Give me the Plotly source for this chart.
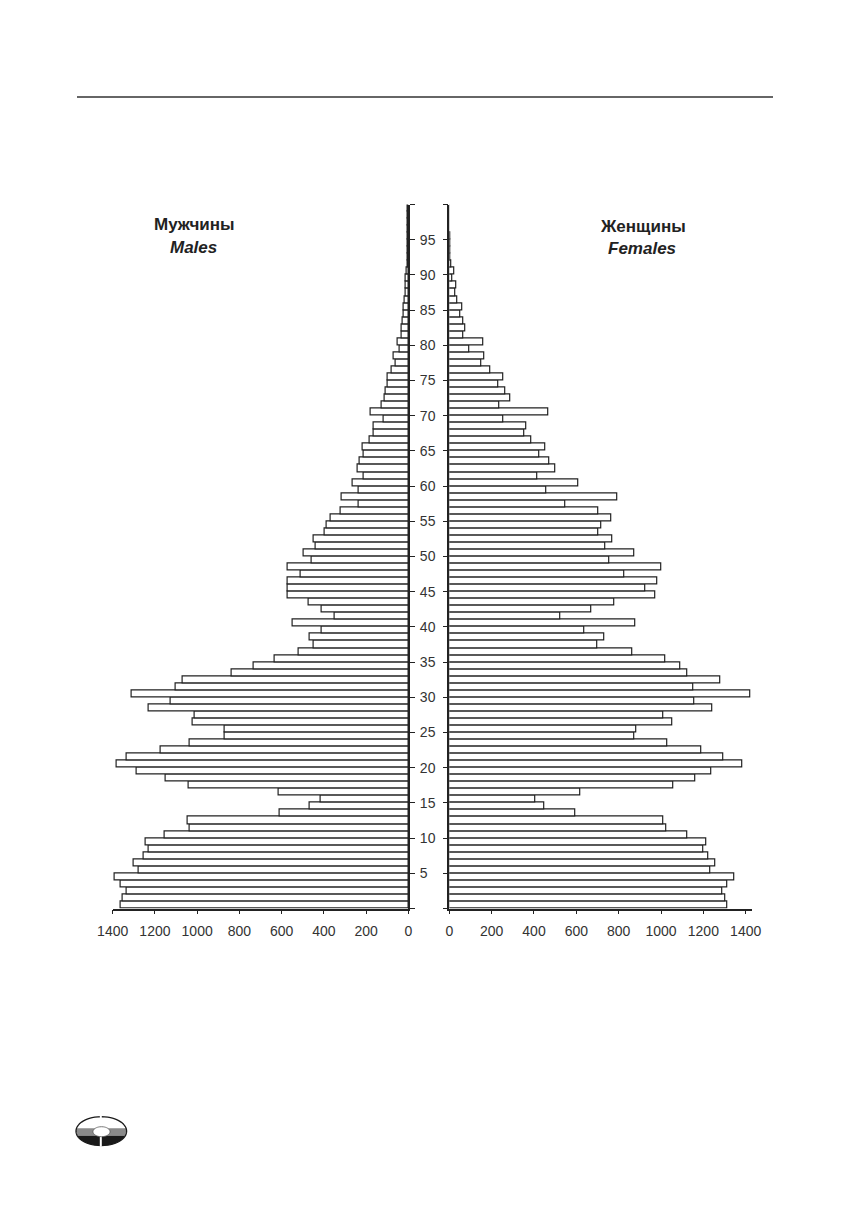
import numpy as np
import plotly.graph_objects as go

W, H = 843, 1220
OFF = 8  # page body margin around the plot div

AGES = list(range(100))

MALES = [
    1362, 1351, 1332, 1364, 1389, 1275, 1300, 1255, 1229, 1245,
    1155, 1037, 1043, 609, 466, 414, 616, 1039, 1147, 1285,
    1381, 1332, 1171, 1037, 870, 870, 1020, 1010, 1228, 1124,
    1310, 1100, 1070, 836, 732, 634, 518, 447, 466, 409,
    549, 350, 410, 473, 573, 571, 571, 508, 571, 458,
    496, 437, 447, 395, 388, 366, 322, 235, 316, 237,
    265, 213, 241, 230, 210, 216, 183, 163, 166, 117,
    178, 126, 110, 107, 98, 98, 79, 60, 68, 43,
    51, 32, 33, 27, 24, 20, 17, 14, 13, 11,
    8, 5, 4, 3, 2, 2, 1, 1, 1, 1,
]

FEMALES = [
    1315, 1302, 1288, 1315, 1348, 1235, 1258, 1224, 1200, 1216,
    1123, 1024, 1009, 594, 450, 408, 619, 1058, 1162, 1239,
    1386, 1294, 1192, 1028, 872, 883, 1055, 1011, 1244, 1159,
    1422, 1153, 1280, 1123, 1091, 1020, 865, 698, 732, 638,
    880, 526, 671, 778, 973, 924, 984, 825, 1002, 756,
    872, 735, 770, 706, 718, 765, 704, 546, 795, 460,
    609, 416, 501, 472, 427, 454, 386, 354, 365, 257,
    468, 236, 288, 263, 230, 255, 192, 153, 164, 96,
    162, 66, 77, 66, 54, 60, 39, 27, 31, 13,
    25, 8, 6, 5, 4, 3, 2, 2, 1, 1,
]

X_TICKS = list(range(0, 1401, 200))
AGE_TICKS = list(range(0, 101, 5))
AGE_LABELS = ["" if a in (0, 100) else str(a) for a in AGE_TICKS]

INK = "#222222"
FONT = "Liberation Sans, Arial, sans-serif"


def px_x(p):
    return (p - OFF) / W


def px_y(p):
    return 1 - (p - OFF) / H


def ellipse_band(cx, cy, rx, ry, top, bot, n=60):
    ys = np.linspace(top, bot, n)
    xs = rx * np.sqrt(np.clip(1 - ((ys - cy) / ry) ** 2, 0, None))
    pts = [(cx + x, y) for x, y in zip(xs, ys)]
    pts += [(cx - x, y) for x, y in zip(xs[::-1], ys[::-1])]
    return "M " + " L ".join(f"{px_x(a):.5f},{px_y(b):.5f}" for a, b in pts) + " Z"


centers = [a + 0.5 for a in AGES]
bar_line = dict(color=INK, width=1.2)

fig = go.Figure()
fig.add_trace(go.Bar(
    y=centers, x=MALES, orientation="h", width=1,
    marker=dict(color="white", line=bar_line),
    xaxis="x", yaxis="y", showlegend=False,
))
fig.add_trace(go.Bar(
    y=centers, x=FEMALES, orientation="h", width=1,
    marker=dict(color="white", line=bar_line),
    xaxis="x2", yaxis="y2", showlegend=False,
))

tickfont = dict(family=FONT, size=14, color="#333333")
common = dict(showgrid=False, zeroline=False, showline=True, linecolor=INK,
              linewidth=1.5, ticks="outside", tickcolor=INK, tickwidth=1.2,
              tickfont=tickfont, automargin=False)

# male: 0 at 408.3px, 1400 at 112.7px ; female: 0 at 449.3px, 1400 at 745.7px
f_scale = (745.7 - 449.3) / 1400
f_max = 1430
y_dom = [px_y(908.5), px_y(204.5)]

fig.update_layout(
    width=W, height=H,
    margin=dict(l=0, r=0, t=0, b=0, pad=0),
    paper_bgcolor="white", plot_bgcolor="white",
    bargap=0,
    xaxis=dict(domain=[px_x(112.7), px_x(408.3)], range=[1400, 0],
               tickvals=X_TICKS, ticklen=4, ticklabelstandoff=5, anchor="y",
               **common),
    xaxis2=dict(domain=[px_x(449.3), px_x(449.3 + f_max * f_scale)],
                range=[0, f_max], tickvals=X_TICKS, ticklen=4,
                ticklabelstandoff=5, anchor="y2", **common),
    yaxis=dict(domain=y_dom, range=[0, 100], side="right", anchor="x",
               tickvals=AGE_TICKS, ticktext=AGE_LABELS, ticklen=5,
               ticklabelstandoff=2, **common),
    yaxis2=dict(domain=y_dom, range=[0, 100], side="left", anchor="x2",
                tickvals=AGE_TICKS, ticklen=5, showticklabels=False, **common),
)

titles = [
    ("<b>Мужчины</b>", 194, 224),
    ("<b><i>Males</i></b>", 193, 247),
    ("<b>Женщины</b>", 643, 226),
    ("<b><i>Females</i></b>", 642, 248),
]
for text, x, y in titles:
    fig.add_annotation(text=text, x=px_x(x), y=px_y(y), xref="paper", yref="paper",
                       showarrow=False, xanchor="center", yanchor="middle",
                       font=dict(family=FONT, size=17, color=INK))

# header rule
fig.add_shape(type="line", xref="paper", yref="paper",
              x0=px_x(77), x1=px_x(773), y0=px_y(97), y1=px_y(97),
              line=dict(color="#333333", width=1.5))

# publisher logo
cx, cy, rx, ry = 101.3, 1131.2, 25.3, 14.5
logo = [
    (ellipse_band(cx, cy, rx, ry, cy - ry, 1128.3), "white"),
    (ellipse_band(cx, cy, rx, ry, 1128.3, 1135.7), "#8a8a8a"),
    (ellipse_band(cx, cy, rx, ry, 1135.7, cy + ry), "#1a1a1a"),
]
for path, color in logo:
    fig.add_shape(type="path", path=path, xref="paper", yref="paper",
                  fillcolor=color, line=dict(width=0))
fig.add_shape(type="path", path=ellipse_band(cx, cy, rx, ry, cy - ry, cy + ry),
              xref="paper", yref="paper", fillcolor="rgba(0,0,0,0)",
              line=dict(color="#1a1a1a", width=1.3))
fig.add_shape(type="rect", xref="paper", yref="paper",
              x0=px_x(99.8), x1=px_x(101.8), y0=px_y(cy + ry + 1), y1=px_y(cy - ry - 1),
              fillcolor="white", line=dict(width=0))
fig.add_shape(type="path", path=ellipse_band(101.5, 1131.7, 8.5, 5, 1126.7, 1136.7),
              xref="paper", yref="paper", fillcolor="white",
              line=dict(color="#555555", width=0.8))

fig.write_html("out.html")
